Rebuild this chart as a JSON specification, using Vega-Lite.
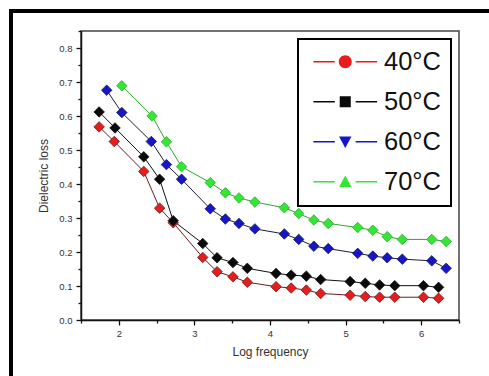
{
  "$schema": "https://vega.github.io/schema/vega-lite/v6.json",
  "width": 378,
  "height": 289,
  "autosize": {"type": "none"},
  "padding": {"left": 81, "top": 31, "right": 30, "bottom": 56},
  "background": "white",
  "config": {
    "view": {"stroke": "#444", "strokeWidth": 1.5},
    "font": "Liberation Sans",
    "axis": {
      "domainColor": "#111",
      "domainWidth": 1.5,
      "tickColor": "#111",
      "tickWidth": 1.3,
      "labelFont": "Liberation Sans",
      "labelFontSize": 9.5,
      "labelColor": "#333",
      "titleFont": "Liberation Sans",
      "titleFontSize": 12,
      "titleFontWeight": "normal",
      "titleColor": "#333",
      "grid": false
    }
  },
  "data": {
    "values": [
      {"series": "40°C", "x": 1.74, "y": 0.568},
      {"series": "40°C", "x": 1.94, "y": 0.525},
      {"series": "40°C", "x": 2.33, "y": 0.437},
      {"series": "40°C", "x": 2.54, "y": 0.329},
      {"series": "40°C", "x": 2.72, "y": 0.286},
      {"series": "40°C", "x": 3.11, "y": 0.184},
      {"series": "40°C", "x": 3.30, "y": 0.142},
      {"series": "40°C", "x": 3.51, "y": 0.127},
      {"series": "40°C", "x": 3.70, "y": 0.111},
      {"series": "40°C", "x": 4.08, "y": 0.098},
      {"series": "40°C", "x": 4.28, "y": 0.094},
      {"series": "40°C", "x": 4.48, "y": 0.088},
      {"series": "40°C", "x": 4.67, "y": 0.078},
      {"series": "40°C", "x": 5.06, "y": 0.073},
      {"series": "40°C", "x": 5.26, "y": 0.069},
      {"series": "40°C", "x": 5.45, "y": 0.067},
      {"series": "40°C", "x": 5.65, "y": 0.067},
      {"series": "40°C", "x": 6.03, "y": 0.067},
      {"series": "40°C", "x": 6.23, "y": 0.064},
      {"series": "50°C", "x": 1.74, "y": 0.612},
      {"series": "50°C", "x": 1.95, "y": 0.565},
      {"series": "50°C", "x": 2.33, "y": 0.480},
      {"series": "50°C", "x": 2.54, "y": 0.414},
      {"series": "50°C", "x": 2.72, "y": 0.292},
      {"series": "50°C", "x": 3.11, "y": 0.225},
      {"series": "50°C", "x": 3.30, "y": 0.183},
      {"series": "50°C", "x": 3.51, "y": 0.169},
      {"series": "50°C", "x": 3.70, "y": 0.152},
      {"series": "50°C", "x": 4.08, "y": 0.137},
      {"series": "50°C", "x": 4.28, "y": 0.132},
      {"series": "50°C", "x": 4.48, "y": 0.129},
      {"series": "50°C", "x": 4.67, "y": 0.119},
      {"series": "50°C", "x": 5.06, "y": 0.113},
      {"series": "50°C", "x": 5.26, "y": 0.108},
      {"series": "50°C", "x": 5.45, "y": 0.103},
      {"series": "50°C", "x": 5.65, "y": 0.101},
      {"series": "50°C", "x": 6.03, "y": 0.101},
      {"series": "50°C", "x": 6.23, "y": 0.096},
      {"series": "60°C", "x": 1.84, "y": 0.676},
      {"series": "60°C", "x": 2.04, "y": 0.610},
      {"series": "60°C", "x": 2.43, "y": 0.525},
      {"series": "60°C", "x": 2.63, "y": 0.457},
      {"series": "60°C", "x": 2.83, "y": 0.414},
      {"series": "60°C", "x": 3.21, "y": 0.327},
      {"series": "60°C", "x": 3.41, "y": 0.297},
      {"series": "60°C", "x": 3.59, "y": 0.284},
      {"series": "60°C", "x": 3.80, "y": 0.268},
      {"series": "60°C", "x": 4.19, "y": 0.253},
      {"series": "60°C", "x": 4.38, "y": 0.237},
      {"series": "60°C", "x": 4.58, "y": 0.217},
      {"series": "60°C", "x": 4.77, "y": 0.210},
      {"series": "60°C", "x": 5.16, "y": 0.196},
      {"series": "60°C", "x": 5.36, "y": 0.188},
      {"series": "60°C", "x": 5.55, "y": 0.183},
      {"series": "60°C", "x": 5.75, "y": 0.179},
      {"series": "60°C", "x": 6.14, "y": 0.174},
      {"series": "60°C", "x": 6.33, "y": 0.152},
      {"series": "70°C", "x": 2.04, "y": 0.689},
      {"series": "70°C", "x": 2.44, "y": 0.600},
      {"series": "70°C", "x": 2.63, "y": 0.524},
      {"series": "70°C", "x": 2.83, "y": 0.451},
      {"series": "70°C", "x": 3.21, "y": 0.404},
      {"series": "70°C", "x": 3.41, "y": 0.374},
      {"series": "70°C", "x": 3.59, "y": 0.359},
      {"series": "70°C", "x": 3.80, "y": 0.347},
      {"series": "70°C", "x": 4.19, "y": 0.330},
      {"series": "70°C", "x": 4.38, "y": 0.313},
      {"series": "70°C", "x": 4.58, "y": 0.294},
      {"series": "70°C", "x": 4.77, "y": 0.284},
      {"series": "70°C", "x": 5.16, "y": 0.272},
      {"series": "70°C", "x": 5.36, "y": 0.264},
      {"series": "70°C", "x": 5.55, "y": 0.245},
      {"series": "70°C", "x": 5.75, "y": 0.237},
      {"series": "70°C", "x": 6.14, "y": 0.237},
      {"series": "70°C", "x": 6.33, "y": 0.231}
    ]
  },
  "encoding": {
    "x": {
      "field": "x",
      "type": "quantitative",
      "scale": {"domain": [1.5, 6.5], "nice": false, "zero": false},
      "axis": {
        "title": "Log frequency",
        "values": [1.5, 2, 2.5, 3, 3.5, 4, 4.5, 5, 5.5, 6, 6.5],
        "labelExpr": "datum.value % 1 === 0 ? format(datum.value, 'd') : ''",
        "tickSize": {"condition": {"test": "datum.value % 1 === 0", "value": 5}, "value": 3},
        "labelPadding": 3,
        "titlePadding": 9,
        "labelFlush": false,
        "labelOverlap": false
      }
    },
    "y": {
      "field": "y",
      "type": "quantitative",
      "scale": {"domain": [0, 0.85], "nice": false},
      "axis": {
        "title": "Dielectric loss",
        "values": [0, 0.05, 0.1, 0.15, 0.2, 0.25, 0.3, 0.35, 0.4, 0.45, 0.5, 0.55, 0.6, 0.65, 0.7, 0.75, 0.8, 0.85],
        "labelExpr": "abs(datum.value*10 - round(datum.value*10)) < 0.001 ? format(datum.value, '.1f') : ''",
        "tickSize": {"condition": {"test": "abs(datum.value*10 - round(datum.value*10)) < 0.001", "value": 5}, "value": 3},
        "labelPadding": 4,
        "titlePadding": 8,
        "labelFlush": false,
        "labelOverlap": false
      }
    }
  },
  "layer": [
    {
      "transform": [{"filter": "false"}],
      "mark": {"type": "point", "filled": true, "opacity": 1, "size": 169},
      "encoding": {
        "fill": {
          "field": "series",
          "type": "nominal",
          "scale": {
            "domain": ["40°C", "50°C", "60°C", "70°C"],
            "range": ["#e81c1c", "#0a0a0a", "#1515cc", "#33e633"]
          },
          "legend": {
            "title": null,
            "orient": "none",
            "legendX": 217,
            "legendY": 8,
            "padding": 10,
            "strokeColor": "black",
            "fillColor": "white",
            "symbolOffset": 24.5,
            "labelOffset": 26,
            "labelFont": "Liberation Sans",
            "labelFontSize": 25.5,
            "labelColor": "#111",
            "rowPadding": 13,
            "symbolSize": 169,
            "symbolStrokeWidth": 0,
            "symbolOpacity": 1,
            "encode": {"legend": {"update": {"strokeWidth": {"value": 2}}}}
          }
        },
        "shape": {
          "field": "series",
          "type": "nominal",
          "scale": {
            "domain": ["40°C", "50°C", "60°C", "70°C"],
            "range": [
              "M-4.9,-0.1H-1.6V0.1H-4.9Z M1.6,-0.1H4.9V0.1H1.6Z M-1,0A1,1 0 1,0 1,0A1,1 0 1,0 -1,0Z",
              "M-4.9,-0.1H-1.6V0.1H-4.9Z M1.6,-0.1H4.9V0.1H1.6Z M-0.85,-0.85H0.85V0.85H-0.85Z",
              "M-4.9,-0.1H-1.6V0.1H-4.9Z M1.6,-0.1H4.9V0.1H1.6Z M-0.95,-0.8H0.95L0,0.95Z",
              "M-4.9,-0.1H-1.6V0.1H-4.9Z M1.6,-0.1H4.9V0.1H1.6Z M-0.95,0.8H0.95L0,-0.95Z"
            ]
          },
          "legend": {
            "title": null,
            "orient": "none",
            "legendX": 217,
            "legendY": 8
          }
        }
      }
    },
    {
      "mark": {"type": "rect", "filled": false, "stroke": "black", "strokeWidth": 2.6, "clip": false},
      "encoding": {
        "x": {"datum": 0.575},
        "x2": {"datum": 7.4},
        "y": {"datum": 0.909},
        "y2": {"datum": -0.3}
      }
    },
    {
      "mark": {"type": "line", "strokeWidth": 1},
      "encoding": {
        "detail": {"field": "series"},
        "stroke": {
          "field": "series",
          "type": "nominal",
          "scale": {
            "domain": ["40°C", "50°C", "60°C", "70°C"],
            "range": ["#6e1c1c", "#111111", "#1c1c3a", "#2ea82e"]
          },
          "legend": null
        },
        "order": {"field": "x", "type": "quantitative"}
      }
    },
    {
      "mark": {"type": "point", "shape": "diamond", "filled": true, "size": 110, "strokeWidth": 0.8, "opacity": 1},
      "encoding": {
        "fill": {"field": "series", "type": "nominal", "legend": null},
        "stroke": {"field": "series", "type": "nominal", "legend": null}
      }
    }
  ]
}
